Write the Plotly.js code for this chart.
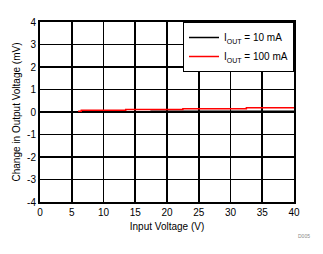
<!DOCTYPE html>
<html><head><meta charset="utf-8">
<script src="https://cdn.plot.ly/plotly-3.0.1.min.js"></script>
<style>html,body{margin:0;padding:0;background:#fff}#c{width:323px;height:254px}</style>
</head><body><div id="c"></div>
<script>
const seriesNames = ["I<sub>OUT</sub> = 10 mA", "I<sub>OUT</sub> = 100 mA"];
const vin10 = [6, 17.5, 40];
const dv10 = [0, 0.03, 0.03];
const vin100 = [6, 6.5, 13.5, 22.5, 32.5, 40];
const dv100 = [0.03, 0.08, 0.11, 0.14, 0.19, 0.19];
const xTicks = [0, 5, 10, 15, 20, 25, 30, 35, 40];
const yTicks = [-4, -3, -2, -1, 0, 1, 2, 3, 4];

const FF = "Liberation Sans, Arial, sans-serif";
const font = {family: FF, size: 10, color: "#000"};
const traces = [
  {x: vin10, y: dv10, name: seriesNames[0], mode: "lines", line: {color: "#000", width: 1.5, shape: "hv"}},
  {x: vin100, y: dv100, name: seriesNames[1], mode: "lines", line: {color: "#ff0000", width: 1.5, shape: "hv"}}
];
const axisCommon = {showgrid: true, gridcolor: "#000", gridwidth: 1.8, zeroline: false,
  showline: true, linecolor: "#000", linewidth: 2, mirror: true, ticks: "", tickfont: font, fixedrange: true};
const layout = {
  width: 323, height: 254,
  margin: {l: 40, r: 29, t: 22, b: 52},
  paper_bgcolor: "#fff", plot_bgcolor: "#fff",
  font: font,
  showlegend: true,
  legend: {x: 1, xanchor: "right", y: 1, yanchor: "top", bgcolor: "#fff", bordercolor: "#000", borderwidth: 1,
    font: {family: FF, size: 10, color: "#000"}, tracegroupgap: 0, itemwidth: 30},
  xaxis: Object.assign({}, axisCommon, {range: [0, 40], tickvals: xTicks, ticktext: xTicks.map(String),
    title: {text: "Input Voltage (V)", font: {family: FF, size: 10, color: "#000"}, standoff: 6}}),
  yaxis: Object.assign({}, axisCommon, {range: [-4, 4], tickvals: yTicks, ticktext: yTicks.map(String),
    title: {text: "Change in Output Voltage (mV)", font: {family: FF, size: 10, color: "#000"}, standoff: 5}}),
  annotations: [{text: "D005", xref: "paper", yref: "paper", x: 1.07, y: -0.16, xanchor: "right", yanchor: "top",
    showarrow: false, font: {family: FF, size: 5, color: "#888"}}]
};
Plotly.newPlot("c", traces, layout, {staticPlot: true, displayModeBar: false});
</script></body></html>
